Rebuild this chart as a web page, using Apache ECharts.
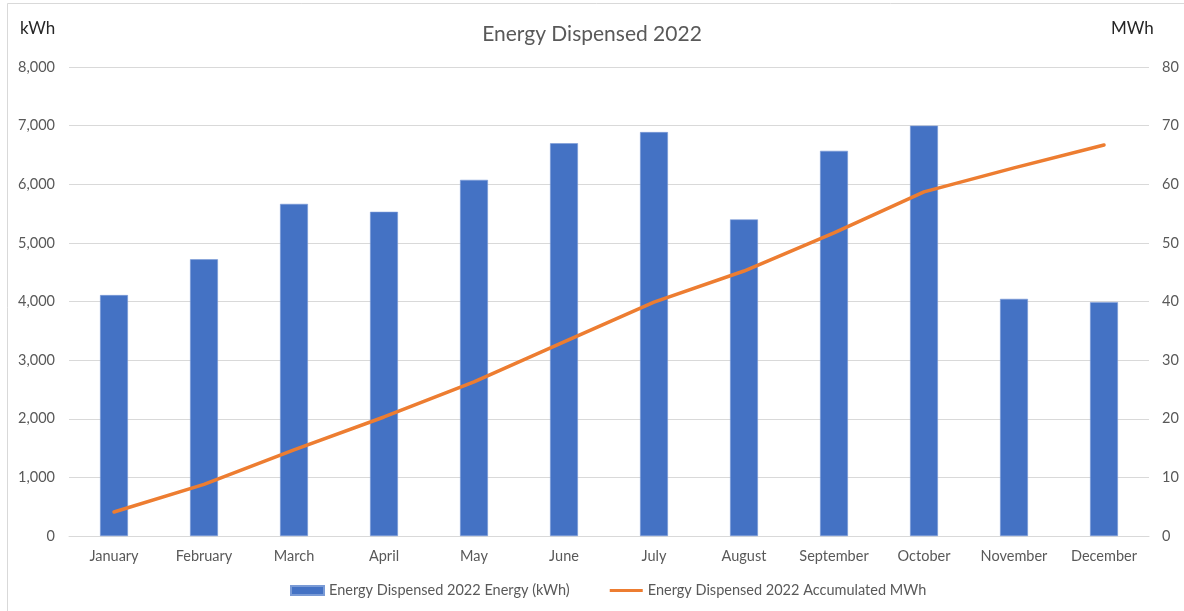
<!DOCTYPE html>
<html>
<head>
<meta charset="utf-8">
<script src="https://cdn.jsdelivr.net/npm/echarts@6/dist/echarts.min.js"></script>
<style>html,body{margin:0;padding:0;background:#fff;}#c{width:1184px;height:611px;}</style>
</head>
<body>
<div id="c"></div>
<script>
var months = ['January','February','March','April','May','June','July','August','September','October','November','December'];
var energyKWh = [4110, 4720, 5665, 5530, 6075, 6700, 6890, 5400, 6570, 7000, 4045, 3990];
var accumulatedMWh = [4.1, 8.8, 14.7, 20.3, 26.3, 33.1, 39.9, 45.2, 51.7, 58.7, 62.8, 66.7];
var leftTicks = {min: 0, max: 8000, interval: 1000};
var rightTicks = {min: 0, max: 80, interval: 10};
var barName = 'Energy Dispensed 2022 Energy (kWh)';
var lineName = 'Energy Dispensed 2022 Accumulated MWh';

var FONT = 'Lato, "Liberation Sans", sans-serif';
var chart = echarts.init(document.getElementById('c'));
chart.setOption({
  backgroundColor: '#fff',
  textStyle: {fontFamily: FONT},
  title: {
    text: 'Energy Dispensed 2022',
    left: 'center', top: 19,
    textStyle: {fontFamily: FONT, fontSize: 21, fontWeight: 'normal', color: '#595959'}
  },
  graphic: [
    {type: 'rect', silent: true, shape: {x: 7.5, y: 3.5, width: 1190, height: 620},
     style: {fill: 'none', stroke: '#d9d9d9', lineWidth: 1}},
    {type: 'text', left: 20, top: 20, silent: true,
     style: {text: 'kWh', fontFamily: FONT, fontSize: 17, fill: '#262626'}},
    {type: 'text', left: 1111, top: 20, silent: true,
     style: {text: 'MWh', fontFamily: FONT, fontSize: 17, fill: '#262626'}}
  ],
  legend: {
    bottom: 8, left: 285,
    itemGap: 40, itemWidth: 33, itemHeight: 9,
    textStyle: {fontFamily: FONT, fontSize: 14.5, color: '#595959'},
    data: [
      {name: barName, icon: 'rect'},
      {name: lineName, icon: 'path://M0,0 M33,9 M0,3 L33,3 L33,6 L0,6 Z'}
    ]
  },
  grid: {left: 69, right: 35, top: 67, bottom: 75},
  xAxis: {
    type: 'category', data: months,
    axisLine: {lineStyle: {color: '#d9d9d9', width: 1}},
    axisTick: {show: false},
    axisLabel: {fontFamily: FONT, fontSize: 14.5, color: '#595959', margin: 13, interval: 0}
  },
  yAxis: [
    {type: 'value', min: leftTicks.min, max: leftTicks.max, interval: leftTicks.interval,
     axisLine: {show: false}, axisTick: {show: false},
     splitLine: {lineStyle: {color: '#d9d9d9', width: 1}},
     axisLabel: {fontFamily: FONT, fontSize: 14.5, color: '#595959', margin: 14,
       formatter: function (v) { return v.toLocaleString('en-US'); }}},
    {type: 'value', min: rightTicks.min, max: rightTicks.max, interval: rightTicks.interval,
     position: 'right',
     axisLine: {show: false}, axisTick: {show: false}, splitLine: {show: false},
     axisLabel: {fontFamily: FONT, fontSize: 14.5, color: '#595959', margin: 13}}
  ],
  series: [
    {name: barName, type: 'bar', data: energyKWh, barWidth: '31%', yAxisIndex: 0,
     itemStyle: {color: '#4472C4', borderColor: '#7a9bd6', borderWidth: 0.6}},
    {name: lineName, type: 'line', data: accumulatedMWh, yAxisIndex: 1,
     symbol: 'none', smooth: false,
     lineStyle: {color: '#ED7D31', width: 3.5, cap: 'round', join: 'round'},
     itemStyle: {color: '#ED7D31'}}
  ],
  animation: false
});
</script>
</body>
</html>
